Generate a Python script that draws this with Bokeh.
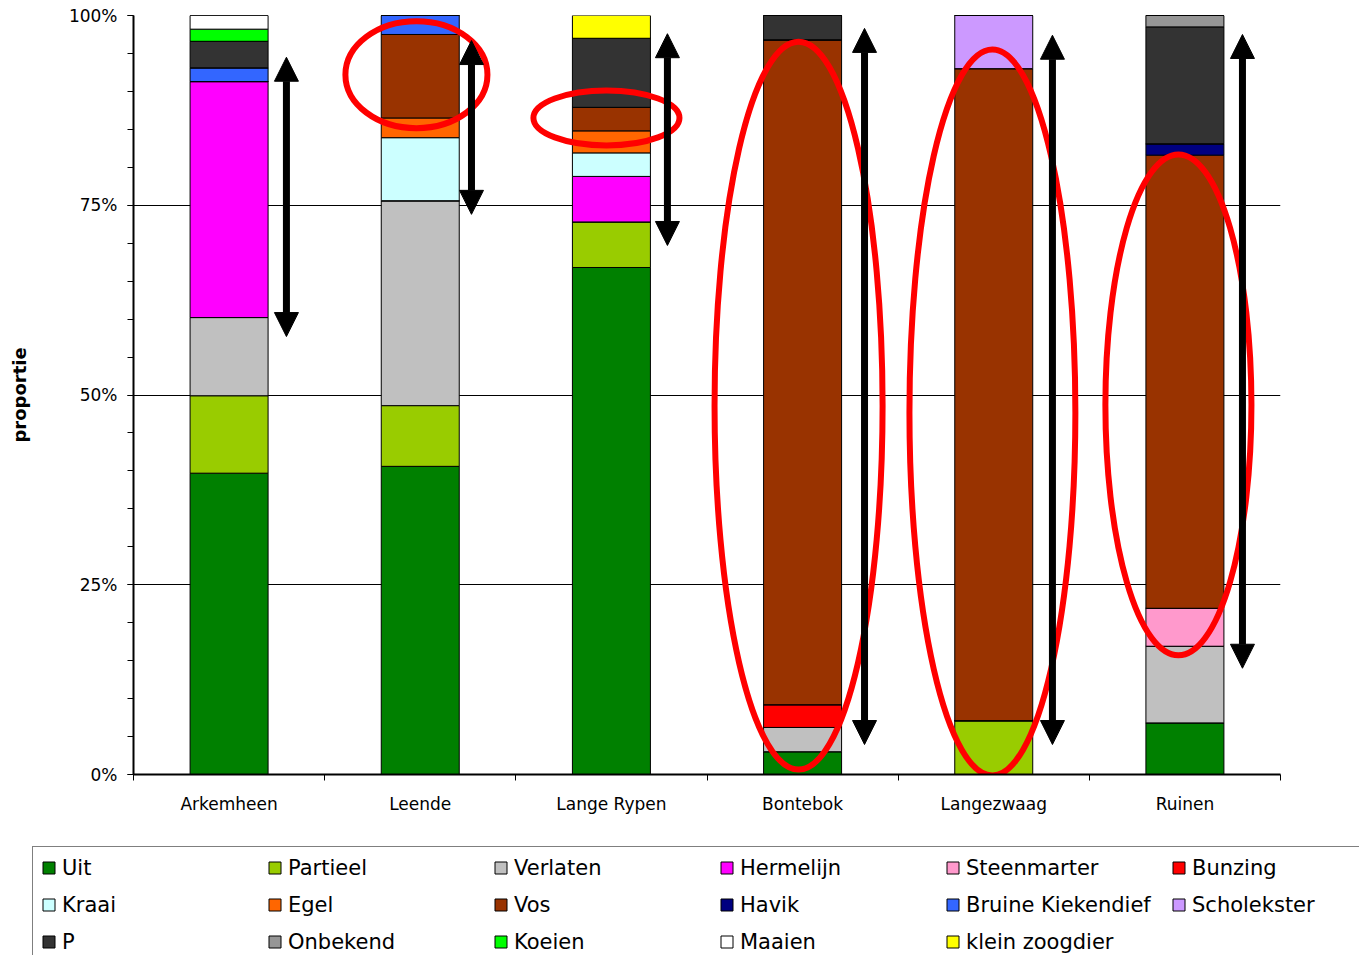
from bokeh.plotting import figure
from bokeh.layouts import column
from bokeh.models import (ColumnDataSource, Range1d, FixedTicker, Legend, LegendItem,
                          Arrow, NormalHead)
from bokeh.embed import file_html
from bokeh.resources import INLINE

categories = ["Arkemheen", "Leende", "Lange Rypen", "Bontebok", "Langezwaag", "Ruinen"]

series = ["Uit", "Partieel", "Verlaten", "Hermelijn", "Steenmarter", "Bunzing",
          "Kraai", "Egel", "Vos", "Havik", "Bruine Kiekendief", "Scholekster",
          "P", "Onbekend", "Koeien", "Maaien", "klein zoogdier"]

colors = ["#008000", "#99CC00", "#C0C0C0", "#FF00FF", "#FF99CC", "#FF0000",
          "#CCFFFF", "#FF6600", "#993300", "#000080", "#3366FF", "#CC99FF",
          "#333333", "#969696", "#00FF00", "#FFFFFF", "#FFFF00"]

# percentages per category (Arkemheen, Leende, Lange Rypen, Bontebok, Langezwaag, Ruinen)
uit = [39.7, 40.6, 66.8, 3.0, 0.0, 6.8]
partieel = [10.2, 8.0, 6.0, 0.0, 7.1, 0.0]
verlaten = [10.3, 27.0, 0.0, 3.2, 0.0, 10.1]
hermelijn = [31.1, 0.0, 6.0, 0.0, 0.0, 0.0]
steenmarter = [0.0, 0.0, 0.0, 0.0, 0.0, 5.0]
bunzing = [0.0, 0.0, 0.0, 3.0, 0.0, 0.0]
kraai = [0.0, 8.3, 3.1, 0.0, 0.0, 0.0]
egel = [0.0, 2.6, 2.9, 0.0, 0.0, 0.0]
vos = [0.0, 11.0, 3.1, 87.6, 85.9, 59.7]
havik = [0.0, 0.0, 0.0, 0.0, 0.0, 1.5]
bruine_kiekendief = [1.8, 2.5, 0.0, 0.0, 0.0, 0.0]
scholekster = [0.0, 0.0, 0.0, 0.0, 7.0, 0.0]
p_pred = [3.5, 0.0, 9.1, 3.2, 0.0, 15.4]
onbekend = [0.0, 0.0, 0.0, 0.0, 0.0, 1.5]
koeien = [1.6, 0.0, 0.0, 0.0, 0.0, 0.0]
maaien = [1.8, 0.0, 0.0, 0.0, 0.0, 0.0]
klein_zoogdier = [0.0, 0.0, 3.0, 0.0, 0.0, 0.0]

values = [uit, partieel, verlaten, hermelijn, steenmarter, bunzing, kraai, egel, vos,
          havik, bruine_kiekendief, scholekster, p_pred, onbekend, koeien, maaien,
          klein_zoogdier]

y_ticks = [0, 25, 50, 75, 100]
y_tick_labels = ["0%", "25%", "50%", "75%", "100%"]

# annotations (data units): red ellipses and double-headed arrows
ell_x = [1.480, 2.474, 3.479, 4.493, 5.466]
ell_y = [92.2, 86.5, 48.6, 47.7, 48.7]
ell_w = [0.743, 0.764, 0.879, 0.868, 0.764]
ell_h = [14.1, 7.25, 95.9, 95.65, 66.0]

arr_x = [0.800, 1.768, 2.793, 3.824, 4.807, 5.801]
arr_top = [94.5, 96.7, 97.6, 98.3, 97.4, 97.5]
arr_bot = [57.7, 73.8, 69.7, 3.95, 3.95, 14.0]

keys = ["s%d" % i for i in range(len(series))]
data = {"x": [i + 0.5 for i in range(len(categories))]}
for k, v in zip(keys, values):
    data[k] = v
source = ColumnDataSource(data)

W = 1359
H_MAIN = 830
H_LEG = 125

p = figure(width=W, height=H_MAIN, x_range=Range1d(0, 6), y_range=Range1d(0, 100),
           output_backend="svg", toolbar_location=None,
           min_border_left=133, min_border_right=79, min_border_top=15,
           min_border_bottom=56)
p.outline_line_color = None
p.background_fill_color = "white"
p.frame_align = False

renderers = p.vbar_stack(keys, x="x", width=0.408, source=source,
                         fill_color=colors, line_color="black", line_width=1)

# y axis
yax = p.yaxis[0]
yax.ticker = FixedTicker(ticks=y_ticks, minor_ticks=list(range(0, 101, 5)))
yax.major_label_overrides = {t: l for t, l in zip(y_ticks, y_tick_labels)}
yax.axis_line_width = 2
yax.axis_line_color = "black"
yax.major_tick_out = 6
yax.major_tick_in = 0
yax.minor_tick_out = 6
yax.minor_tick_in = 0
yax.major_tick_line_color = "black"
yax.minor_tick_line_color = "black"
yax.major_label_text_font = "DejaVu Sans"
yax.major_label_text_font_size = "17px"
yax.major_label_text_color = "black"
yax.major_label_standoff = 10
yax.axis_label = "proportie"
yax.axis_label_text_font = "DejaVu Sans"
yax.axis_label_text_font_size = "18px"
yax.axis_label_text_font_style = "bold"
yax.axis_label_text_color = "black"
yax.axis_label_standoff = 36

# x axis
xax = p.xaxis[0]
xticks = [i + 0.5 for i in range(len(categories))]
xax.ticker = FixedTicker(ticks=xticks, minor_ticks=list(range(0, 7)))
xax.major_label_overrides = {t: c for t, c in zip(xticks, categories)}
xax.axis_line_width = 2
xax.axis_line_color = "black"
xax.major_tick_line_color = None
xax.major_tick_out = 0
xax.major_tick_in = 0
xax.minor_tick_out = 6
xax.minor_tick_in = 0
xax.minor_tick_line_color = "black"
xax.major_label_text_font = "DejaVu Sans"
xax.major_label_text_font_size = "17px"
xax.major_label_text_color = "black"
xax.major_label_standoff = 13

p.xgrid.grid_line_color = None
p.ygrid.grid_line_color = "black"
p.ygrid.grid_line_width = 1

# annotations
p.ellipse(x=ell_x, y=ell_y, width=ell_w, height=ell_h, fill_color=None,
          line_color="#FF0000", line_width=6)

arrow_src = ColumnDataSource(dict(x0=arr_x, y0=arr_bot, x1=arr_x, y1=arr_top))
p.add_layout(Arrow(start=NormalHead(size=24, fill_color="black", line_color="black"),
                   end=NormalHead(size=24, fill_color="black", line_color="black"),
                   x_start="x0", y_start="y0", x_end="x1", y_end="y1",
                   source=arrow_src, line_width=7, line_color="black"))

# legend figure (same series colours); its swatch glyphs sit outside the visible range
pl = figure(width=W, height=H_LEG, x_range=Range1d(0, 1), y_range=Range1d(0, 1),
            output_backend="svg", toolbar_location=None,
            x_axis_location=None, y_axis_location=None,
            min_border_left=0, min_border_right=0, min_border_top=0,
            min_border_bottom=0)
pl.frame_align = False
pl.outline_line_color = None
pl.xgrid.grid_line_color = None
pl.ygrid.grid_line_color = None
leg_renderers = [pl.vbar(x=[10], top=[1], width=0.1, fill_color=c, line_color="black",
                         line_width=1) for c in colors]

items = [LegendItem(label=s, renderers=[r]) for s, r in zip(series, leg_renderers)]
legend = Legend(items=items, ncols=6, orientation="horizontal",
                location=(32, -8),
                label_text_font="DejaVu Sans", label_text_font_size="21px",
                label_text_color="black",
                glyph_width=15, glyph_height=15, label_standoff=6,
                spacing=12, padding=8, label_width=193, label_height=25,
                margin=0, border_line_color="black", border_line_width=1.5,
                background_fill_color="white", background_fill_alpha=1)
pl.add_layout(legend, "center")

layout = column(p, pl, spacing=0)
open("out.html", "w").write(file_html(layout, INLINE))
